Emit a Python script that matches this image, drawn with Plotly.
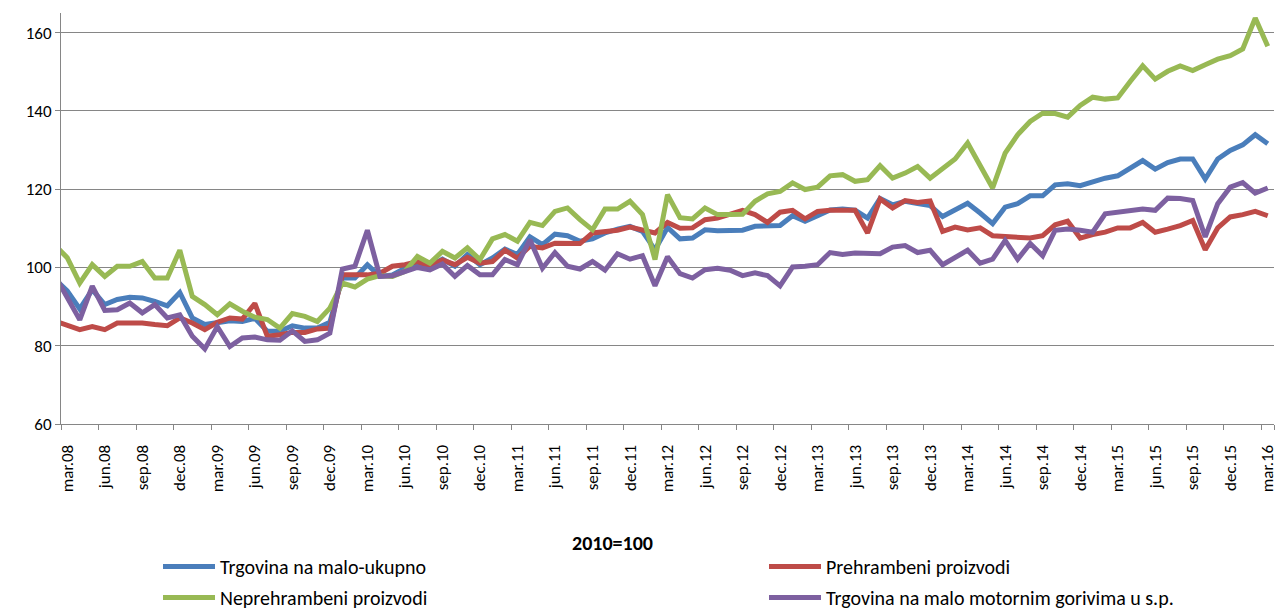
import plotly.graph_objects as go

# Monthly categories feb.08 .. mar.16 (feb.08 sits just left of the visible range)
month_names = ["jan", "feb", "mar", "apr", "maj", "jun", "jul", "avg", "sep", "okt", "nov", "dec"]
categories = []
y, m = 2008, 1
while (y, m) <= (2016, 2):
    categories.append(f"{month_names[m]}.{str(y)[2:]}")
    m += 1
    if m == 12:
        m = 0
        y += 1

tick_labels = [c for c in categories if c.split(".")[0] in ("mar", "jun", "sep", "dec")]

ukupno = [97.0, 94.0, 89.4, 94.3, 90.5, 91.8, 92.4, 92.2, 91.3, 90.2, 93.6,
          87.1, 85.4, 86.0, 86.4, 86.2, 87.0, 83.7, 83.7, 85.1, 84.5, 84.5, 86.0,
          97.3, 97.3, 100.7, 97.7, 98.1, 99.8, 101.1, 100.3, 102.1, 100.3, 103.3,
          100.7, 102.4, 104.7, 103.3, 107.8, 105.8, 108.5, 108.1, 106.7, 107.3, 108.8,
          109.8, 110.5, 109.2, 104.5, 110.2, 107.3,
          107.5, 109.6, 109.4, 109.5, 109.5, 110.5, 110.5, 110.7, 113.2, 111.8, 113.2,
          114.7, 114.9, 114.6, 112.6, 117.6,
          116.0, 116.9, 116.3, 115.8, 113.0, 114.7, 116.4, 113.9, 111.2, 115.4, 116.3,
          118.3, 118.3, 121.1, 121.4, 120.9,
          122.0, 122.8, 123.4, 125.4, 127.3, 125.1, 126.8, 127.7, 127.7, 122.6, 127.7,
          129.9, 131.3, 133.9, 131.6]

prehrambeni = [86.3, 85.3, 84.1, 84.9, 84.1, 85.8, 85.8, 85.8, 85.4, 85.1, 87.1,
               85.8, 84.1, 86.0, 87.1, 86.8, 90.8, 82.4, 82.8, 83.4, 83.4, 84.3, 84.5,
               98.1, 98.1, 98.1, 98.5, 100.3, 100.7, 101.5, 100.4, 101.9, 100.7, 102.6,
               101.1, 101.5, 104.4, 102.4, 105.4, 105.0, 106.2, 106.2, 106.1, 108.8, 109.0,
               109.5, 110.3, 109.6, 108.8, 111.5, 110.0,
               110.1, 112.2, 112.6, 113.5, 114.6, 113.5, 111.5, 114.1, 114.6, 112.4, 114.3,
               114.6, 114.6, 114.6, 108.8, 117.5,
               115.2, 117.1, 116.6, 117.0, 109.2, 110.3, 109.6, 110.1, 108.1, 107.8, 107.8,
               107.5, 108.1, 110.9, 111.8, 107.5,
               108.4, 109.0, 110.1, 110.1, 111.5, 109.0, 109.8, 110.7, 112.0, 104.5, 110.1,
               112.9, 113.5, 114.3, 113.2]

neprehrambeni = [105.7, 102.5, 96.0, 100.7, 97.7, 100.3, 100.3, 101.5, 97.3, 97.3, 104.4,
                 92.6, 90.5, 87.9, 90.7, 88.8, 87.3, 86.7, 84.5, 88.2, 87.5, 86.2, 89.6,
                 96.0, 95.0, 97.0, 97.9, 97.7, 99.0, 102.8, 101.1, 104.1, 102.4, 105.0,
                 102.0, 107.3, 108.4, 106.7, 111.5, 110.7, 114.3, 115.2, 112.2, 109.6, 114.9,
                 114.9, 116.9, 113.5, 102.0, 118.6, 112.7,
                 112.4, 115.2, 113.5, 113.5, 113.6, 116.9, 118.8, 119.4, 121.6, 119.9, 120.5,
                 123.4, 123.7, 122.0, 122.4, 126.0,
                 122.8, 124.1, 125.8, 122.8, 125.4, 127.7, 131.8, 126.0, 120.3, 129.2, 133.9,
                 137.3, 139.4, 139.3, 138.4, 141.4,
                 143.5, 143.0, 143.3, 147.5, 151.5, 148.1, 150.1, 151.5, 150.3, 151.8, 153.2,
                 154.1, 155.8, 163.7, 156.5]

gorivo = [98.0, 92.5, 86.6, 95.2, 89.0, 89.2, 90.9, 88.4, 90.5, 87.1, 87.9,
          82.4, 79.2, 84.9, 79.8, 82.0, 82.2, 81.5, 81.4, 83.8, 81.1, 81.5, 83.2,
          99.6, 100.3, 109.5, 97.7, 97.9, 99.0, 100.0, 99.4, 100.9, 97.7, 100.5,
          98.1, 98.1, 102.0, 100.7, 107.1, 99.8, 103.8, 100.3, 99.6, 101.5, 99.3,
          103.5, 102.1, 103.0, 95.3, 102.7, 98.4,
          97.3, 99.4, 99.8, 99.3, 97.9, 98.6, 97.9, 95.3, 100.1, 100.3, 100.7,
          103.8, 103.3, 103.7, 103.5, 103.5,
          105.2, 105.6, 103.8, 104.4, 100.7, 102.7, 104.4, 101.1, 102.1, 106.9, 102.1,
          106.1, 103.0, 109.5, 109.8, 109.5,
          109.0, 113.7, 114.1, 114.6, 114.9, 114.6, 117.7, 117.6, 117.1, 107.8, 116.3,
          120.5, 121.7, 119.0, 120.3]

series = [
    ("Trgovina na malo-ukupno", ukupno, "#4A7EBB", "legend"),
    ("Prehrambeni proizvodi", prehrambeni, "#BE4B48", "legend2"),
    ("Neprehrambeni proizvodi", neprehrambeni, "#98B954", "legend"),
    ("Trgovina na malo motornim gorivima u s.p.", gorivo, "#7D60A0", "legend2"),
]

FONT = "Carlito, Lato, sans-serif"
W, H = 1278, 612

fig = go.Figure()
for k, (name, vals, color, lg) in enumerate(series):
    fig.add_trace(go.Scatter(
        x=categories[:len(vals)], y=vals, mode="lines", name=name,
        line=dict(color=color, width=5), legend=lg, legendgroup=f"g{k}",
    ))

legend_common = dict(
    orientation="v", xanchor="left", yanchor="top",
    xref="container", yref="container", y=1 - 547 / H,
    font=dict(size=20, family=FONT, color="#000000"),
    itemwidth=52, tracegroupgap=2, bgcolor="rgba(0,0,0,0)",
)

fig.update_layout(
    width=W, height=H,
    margin=dict(l=61, r=4, t=13, b=188, autoexpand=False),
    paper_bgcolor="white", plot_bgcolor="white",
    font=dict(family=FONT, color="#000000"),
    showlegend=True,
    legend=dict(x=158 / W, **legend_common),
    legend2=dict(x=764 / W, **legend_common),
    annotations=[dict(
        text="<b>2010=100</b>", x=0.455, xref="paper", y=-0.29, yref="paper",
        xanchor="center", yanchor="middle", showarrow=False,
        font=dict(size=20, family=FONT, color="#000000"),
    )],
)

fig.update_xaxes(
    type="category", categoryorder="array", categoryarray=categories,
    range=[0.5, len(categories) - 0.5], automargin=False,
    tickmode="array", tickvals=tick_labels, ticktext=tick_labels,
    tickson="boundaries", ticks="outside", ticklen=5, tickcolor="#868686",
    tickangle=-90, ticklabelstandoff=13,
    tickfont=dict(size=17, family=FONT, color="#000000"),
    showgrid=False, showline=True, linecolor="#868686", linewidth=1,
    zeroline=False,
)
fig.update_yaxes(
    range=[60, 165], tickmode="array", tickvals=[60, 80, 100, 120, 140, 160],
    automargin=False, ticks="outside", ticklen=5, tickcolor="#868686",
    ticklabelstandoff=0,
    tickfont=dict(size=17, family=FONT, color="#000000"),
    showgrid=True, gridcolor="#868686", gridwidth=1,
    showline=True, linecolor="#868686", linewidth=1, zeroline=False,
)

fig.write_html("out.html", config={"displayModeBar": False},
               post_script="document.body.style.margin='0';")
